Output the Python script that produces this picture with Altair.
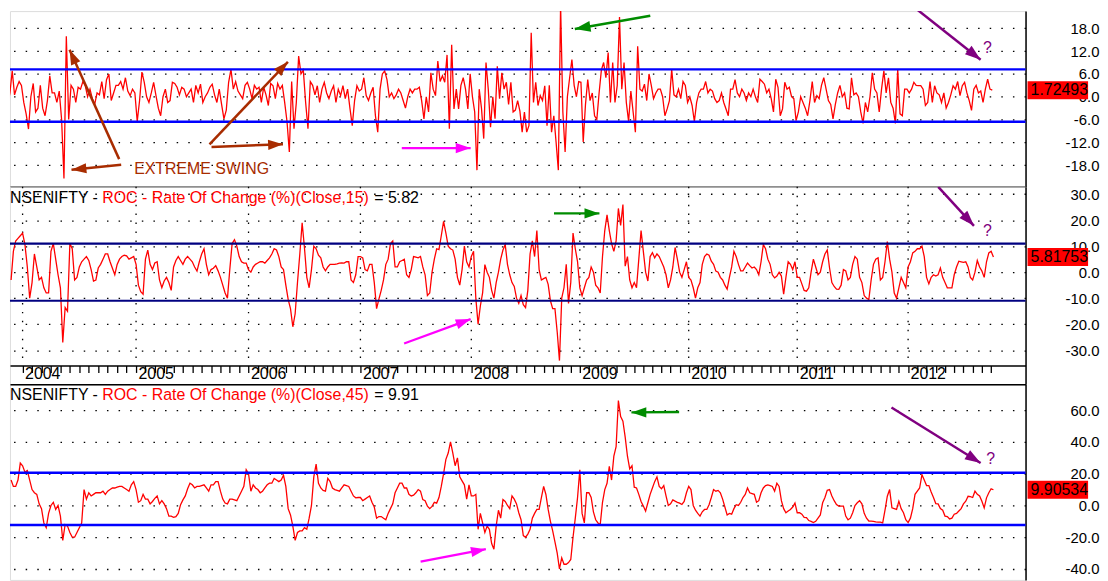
import altair as alt
import pandas as pd

FONT = "Liberation Sans"
RED = "#ff0000"
BROWN = "#a82c00"
GREEN = "#008c00"
MAGENTA = "#ff00ff"
PURPLE = "#800080"

YEARS = [2004, 2005, 2006, 2007, 2008, 2009, 2010, 2011, 2012]
MONTH_TICKS = [round(y + m / 12, 4) for y in YEARS for m in range(12) if y + m / 12 < 2012.8]
# the time axis is bar-based, so years have slightly different widths on screen
X_DOMAIN = [2003.886, 2004, 2005, 2006, 2007, 2008, 2009, 2010, 2011, 2012, 2013.061]
X_RANGE = [0, 12.7, 127, 240.3, 353, 464.7, 574, 683.7, 793, 904.7, 1023]

# ---- ROC(Close,5): 48 samples per year ----
ROC5 = {
    2003: [-2.3, 1, 6.8, 0.5, 2.5, 4, 3],
    2004: [-1.5, -4.5, -8.5, 0, 3.5, -4, -3, 3, -3, -5, -1, 5.5, 1, 1, -1.5, 1.5, -6, -21.5, 15.9, -6,
           3, 2, -1.5, 2.5, 2, 4, 2.9, 0, 2, -0.5, -2, 1, 0.5, 4, -0.5, 4.5, 6, -1, 1, 3,
           3, 4, 2, 5, 1.5, 0.3, 2, 1],
    2005: [-6.5, -1, 6.5, 3.8, 0, -1.5, 1, 3.8, 0.3, -3, -5, 0, 2, -1.5, -1, 3.8, 3.5, 2.5, 0.5, 2.5,
           2, 0, 1, 2, -1.5, 3, 1, 3.3, -1.5, 0, 1, 2.5, 3.3, 0.5, -1.5, 2, -2, -5.8, -3.5, 3.8,
           7.2, 2, 4, 1.5, 0.5, -0.5, 3, 3.8],
    2006: [2, -0.5, 3, 2, 2.5, -1.5, 2.5, 0.5, -2.3, 3.5, 2.9, -0.5, 3.5, 2, 3, -1.5, -6.5, -14.5, 4, -8.4,
           -1.5, 10.7, 6, 7, -1.5, -8.4, 4, 3, 0.5, 2.9, -1.5, 2, 3.8, 1, -0.5, 1.5, 2.9, -1.5, 2, 0.3,
           2.9, -0.5, 2, -3, -7.6, -1, 2.9, 1.5],
    2007: [2, 5, 0.3, -1, 1, 2.5, -5, -9.3, 2, 6, 6.8, 4.5, 0, 1, -0.5, 0.5, 2, 1, -1, -3,
           0, 2, 1, 2, 2, 2.5, -1, -5.8, 0, -4, 6.3, 2, 0.3, 9.4, 4, 5.5, 3.8, 11, -8.4, 13.7,
           -3.2, 2, -3.2, 3, 5, 2, -3.2, 6],
    2008: [0, -4, -19.3, 2, -3, -11, 9, 2, -8, 0, -5.8, 8, -0.5, 6.3, 2, 3.8, -2, 3.8, -4, -3.5,
           -1, -3.8, -9.3, -4, -9.3, -7.6, 16.8, -1.5, 3.8, -2.3, 0.3, -1, 2.9, -7.6, 3, -9.3, -5, -11.9, -19.3, 24.2,
           -4, -14.5, 0, 5, 9.8, 3, 0, 4],
    2009: [3.8, -11.9, -2, 4.5, -1, 1, -5, -6, 1, 7, 9, 5, 11.6, -1.5, 9, -1.5, 3, 21, 2, 9,
           -1.5, -6.5, 1.5, -4, -9.3, 13.3, 2, 1.5, 3.3, -1, 6, 3, -0.5, 1, 2, 2, 0, -5, -3.2, -1,
           7.2, 0.5, 0, 2, -0.5, 4, 3, -1.5],
    2010: [0, -2.3, -6.5, -1.5, 1, 2, 2, 4, 1, 2, 1.5, -0.5, -1.5, -1, 1, -1.5, -3.2, -5, 2, 2,
           4.5, 1, 0, 2, 1, -1, 1, 0, 2, 0, -1.5, 4.6, 4, 3.3, 1, 2, -0.5, -4, 4.6, 2.5,
           -5, -3.2, 3.8, 2, 2.5, 0, -0.5, -6.3],
    2011: [-4, 0, -1.5, -3, -5, -1, 4, -1.5, 0.3, -0.5, 3, 5, 2, -1, -2, -5.8, -2, 1, 3, 0,
           1, -3, -3.2, 5, 0.5, 1, 0, -4, -7, -1.5, -4, 0, 6.3, 2, 1, -4, 2, 6.8, 1, 5,
           -1.5, -3, -7, 7.2, -4.5, -5, 2, 2],
    2012: [1, 2, 3.8, 3, 2.9, 2.9, 2, -2.3, -1.5, 4, -1.5, 2.9, 1, 0.5, -1.5, 1, -3, -1.5, 0.5, 2.9,
           2, 4, 0.3, 2.9, 3.8, 1, -1, -3.6, 2, 3, 1, 1.5, -1.5, 2, 4.6, 2, 1.72493],
}

# ---- ROC(Close,15): 48 samples per year ----
ROC15 = {
    2003: [-3, 8, 12, 13, 14, 15],
    2004: [10.6, 2, -10, -4, 7, 2, -3, -2, -6, -8, -8, 8, 11, 5, -1, -6, -27, -13.6, -15, 11,
           9, -3, -2, 2, 4, 5, 6, 4.5, 1, -3.4, -3, 1.6, 3, 5, 7, 7, 4, 1.5, -1, 3,
           5, 6, 6.5, 6.3, 5, 5.5, 6, 3],
    2005: [-5, -7.5, -8.5, 5, 8.5, 3, 1, 3.5, 4, -3, -6, -3.4, -2, -4, -7, 2, 4.5, 6, 4.5, 3,
           5, 6, 5, 4, 2, 0.4, 4, 7, 9, 3, -1, 1, 1.5, 2.5, 0.5, -2, -5, -8, -10, 1,
           11, 12.5, 10, 6, 4, 3.5, 3.5, 1],
    2006: [0, 2, 3, 3.5, 4, 4, 3.5, 4.5, 5.5, 7, 9, 8.5, 6, 2, 1, -5, -10.5, -14, -21, -16,
           -4, 7, 19, 9.3, -2, -6, 1, 10, 9, 6.5, 5.5, 2, 0.5, 2, 3, 3, 3, 3.2, 3.5, 3.6,
           3.5, 4, 4, -3, -4, -1, 6, 6],
    2007: [5.5, 1, 0.5, 3, 3, -4, -14, -10.4, -7, -3, 3, 5, 11, 12, 2, 2, 4, 4.5, 5, -1,
           -2, 1, 6, 5.8, 5.5, 6, 2, -1, -9, -8, 0, 5, 9, 8.7, 14, 19.5, 15, 10, 9, 8.5,
           5, -2, -5, 1, 10, 4, 2, 6],
    2008: [8, -10, -20, -13, -8, 2.9, 0, -2, -7, -10, -4, 0, 5, 8.5, 10.6, 3, -1, -4, -5.5, -10,
           -12, -9, -12.5, -13.6, -7, 7, 12, 6, 16, 1, -3, -2.5, -2, -4.7, -11, -14, -14, -23, -34, -10,
           -6, 3, -12, -4, 15, 9, 4, -6],
    2009: [-9, -6, -3, -2, 2, 0, -5, -6, -8, 6, 16, 22, 16, 11, 8, 12, 24.5, 18, 26, 2.3,
           6, -3, -6, -4, -6, 5, 16, 8, 0, -3.4, 6, 7.5, 5.5, 7, 6, 4, 2, -1, -6, -3,
           2, 9.5, 5, 0, -2, 1, 4, -2],
    2010: [-3, -6, -10, -6, -4, 3, 6, 7, 6.5, 4.2, 3, 0.4, 0, -2, -3, -5, -6.5, -2, 2, 8,
           6, 3, 0.5, 0.5, 2, 3.5, 2.5, 1.6, 2, 1, -1, 4, 10.6, 9, 5, 3, -1, -2.2, -1.5, 0,
           -1.5, -8.5, -2, 4, 3, 1, 4, -2],
    2011: [-2, -4.5, -7, -7.3, -6, 0, 5, 2, -1, 0, 4, 7, 8.5, 1.6, -4, -5.5, -6.5, -6.6, -5, 1,
           0.5, -3, -2, 3, 6, 5, -2, -4, -9, -10, -10.5, -3, 3, 5, 5.5, -3, -2, 4, 11.8, 5,
           0, -8, -10, -6, -2, -4, -6, 2],
    2012: [4, 7.4, 8, 9, 9, 10, 6, -2, -4.5, -2, -1, -1.5, -1, 1.6, -2, -4, -6, -6, -6, -1,
           2, 4.2, 4, 3.8, 4, 2, -2, -3, 0, 4.5, 2, 0.4, -2, 4, 7.4, 8, 5.81753],
}

# ---- ROC(Close,45): 48 samples per year ----
ROC45 = {
    2003: [16, 12, 12, 16, 26.7, 25],
    2004: [21, 22, 16, 10, 8, 7, 1, -2, -11, -14, -5, 0, 2, -2.5, 0, -6.7, -22, -12, -13, -17,
           -20, -20, -17, -14, -11, 10, 4, 8, 6, 7, 8, 8, 8, 9, 7, 9, 10, 11, 11, 11.5,
           12, 12, 11, 10, 9, 13, 15, 10],
    2005: [2, 3, 7, 4, 4, 1, 2.5, 4.5, 6, 1, 3, 1, -2, -6.7, -6.7, -7.5, -7, -5, 0.5, 3.5,
           6, 10.5, 14, 13, 11, 12, 12, 12.5, 13, 11, 9, 13, 13, 15, 15, 9, 4, 1.5, 1, 4,
           4, 3.5, 3, 6, 9, 12, 22.5, 20],
    2006: [9, 13, 11, 10, 8, 9, 11, 13, 14, 14, 17, 16, 15, 16, 19, 12, -2, -6, -13, -22,
           -17, -16, -16, -14, -15, -8, 0, 18, 26, 14, 11, 9.5, 9, 17, 15, 11, 10, 9.5, 9, 11,
           13, 12.5, 12, 9, 6, 4.8, 5, 5],
    2007: [3, 4, 5, 6, 2, -1, -8, -7, -7, -8, -9, -5, -2, 1, 8, 11, 14, 14, 11, 11,
           7, 6, 6.5, 8, 10, 9, 3.7, 3, -0.4, -2, -0.6, 2, 1.5, 5, 12, 20, 29, 33, 40, 33,
           25, 30, 18, 15.5, 13, 4, 13, 6],
    2008: [6, 7, -15, -5, -11, -17, -13, -15, -24, -27.5, -13, -3, -8, 3.7, 2.5, 0, -2, 6, 4, 1,
           -4.6, -9, -19, -20, -18, -15, -8, -5, -2.5, -2.5, 5, 12, 6.9, -2.5, -10, -16, -23, -30, -40, -33,
           -37, -37, -36, -34, -20, -8, 5, 22.5],
    2009: [-5, -11, 8, 8, 5, -4, -9, -11, -12, 2, 10, 14, 24.6, 16, 31, 37, 66, 56, 53, 43,
           31, 23, 25, 11.5, 11, 7, 2.5, -0.4, -3.5, 1.7, 7, 11, 15, 18, 12, 10.5, 12.5, 6, 0, 1,
           3.5, 2.7, 2, 1.5, 0.6, 2.5, 8, 12],
    2010: [10, 0, -3, -5, -6.7, -4, -2.5, -2.5, 0.5, 5, 10, 9, 9.5, 8, 4, -1, -6, -5, -5.5, -2,
           0.5, 0, 2, 5, 6.9, 11, 8, 7.5, 7, 2, 3, 8, 11, 12.5, 13, 12.5, 12, 9, 14, 12,
           3, -2, -4.6, -3.5, -2.5, -1, 1.5, -4.6],
    2011: [-4.6, -5.5, -7.5, -7.7, -9.5, -10, -10.8, -10, -8, -6, 1.7, 5, 9.5, 10, 6, 3, 0.6, -0.4, -0.4, -0.4,
           -6.7, -9, -8, -4.6, 0, 1.7, 3, 1, -5, -8, -9.8, -9.8, -10, -10.4, -10.5, -10.5, -11, -3, 5.8, 10,
           -1.5, -2, -2.5, 2.7, -2, -4.6, -9, -10.8],
    2012: [-8, -2, 7, 9, 11, 19.4, 16, 12.5, 12.5, 8.5, 5, 1.2, 1, -2, -3, -6.7, -7, -8.5, -8, -5.5,
           -5, -3.5, -2, 1, 2.7, 5.8, 5.5, 5, 9, 7, 6, 2.7, -1.5, 4.8, 8, 10.5, 9.90534],
}

for _name, _d in (("ROC5", ROC5), ("ROC15", ROC15), ("ROC45", ROC45)):
    for _y in YEARS[:-1]:
        assert len(_d[_y]) == 48, (_name, _y, len(_d[_y]))

# band (overbought / oversold) levels per panel
BANDS5 = [7.2, -6.6]
BANDS15 = [11, -11]
BANDS45 = [20.6, -12.3]

TICKS5 = [-18, -12, -6, 0, 6, 12, 18]
TICKS15 = [-30, -20, -10, 0, 10, 20, 30]
TICKS45 = [-40, -20, 0, 20, 40, 60]

# arrows: tail (x1,y1) -> tip (x2,y2), in data units of each panel
ARROWS5 = [
    dict(x1=2004.869, y1=-17.9, x2=2004.431, y2=-19.2, color=BROWN, angle=264.3, size=900, width=2.5),
    dict(x1=2004.851, y1=-16.4, x2=2004.414, y2=12.35, color=BROWN, angle=335.6, size=900, width=2.5),
    dict(x1=2005.653, y1=-12.5, x2=2006.352, y2=9.2, color=BROWN, angle=43.6, size=900, width=2.5),
    dict(x1=2005.671, y1=-13.2, x2=2006.308, y2=-12.5, color=BROWN, angle=87.6, size=900, width=2.5),
    dict(x1=2007.373, y1=-13.5, x2=2007.994, y2=-13.5, color=MAGENTA, angle=90, size=900, width=2.2),
    dict(x1=2009.647, y1=21.3, x2=2008.954, y2=17.8, color=GREEN, angle=260.1, size=1000, width=2.5),
    dict(x1=2012.083, y1=22.9, x2=2012.655, y2=9.74, color=PURPLE, angle=128.3, size=1000, width=2.5),
]
ARROWS15 = [
    dict(x1=2008.762, y1=22.6, x2=2009.180, y2=22.6, color=GREEN, angle=90, size=900, width=2.5),
    dict(x1=2007.394, y1=-27.4, x2=2007.994, y2=-18.05, color=MAGENTA, angle=70, size=900, width=2.2),
    dict(x1=2012.272, y1=32.8, x2=2012.595, y2=17.8, color=PURPLE, angle=137.5, size=1000, width=2.5),
]
ARROWS45 = [
    dict(x1=2009.912, y1=58.9, x2=2009.474, y2=58.6, color=GREEN, angle=270, size=900, width=2.5),
    dict(x1=2007.543, y1=-35.4, x2=2008.134, y2=-27.5, color=MAGENTA, angle=79, size=900, width=2.2),
    dict(x1=2011.850, y1=61.7, x2=2012.655, y2=26.7, color=PURPLE, angle=122, size=1000, width=2.5),
]
NOTES5 = [
    dict(x=2004.983, y=-20.37, text="EXTREME SWING", color=BROWN, align="left", baseline="alphabetic"),
    dict(x=2012.717, y=12.9, text="?", color=PURPLE, align="center", baseline="middle"),
]
NOTES15 = [dict(x=2012.716, y=16.0, text="?", color=PURPLE, align="center", baseline="middle")]
NOTES45 = [dict(x=2012.747, y=29.4, text="?", color=PURPLE, align="center", baseline="middle")]

HEAD = "M0,0L0.34,1L-0.34,1Z"
WIDTH = 1023


def build(chunks, per_year, off):
    rows = []
    for year, vals in chunks.items():
        start = per_year - len(vals) if year == 2003 else 0
        for j, v in enumerate(vals):
            rows.append({"t": year + (start + j + off) / per_year, "v": v})
    return pd.DataFrame(rows)


Y_LABEL_EXPR = "datum.value < 0 ? '-' + format(-datum.value, '.1f') : format(datum.value, '.1f')"
X_LABEL_EXPR = "abs(datum.value - round(datum.value)) < 0.01 ? toString(round(datum.value)) : ''"


def border_axis(orient):
    return alt.Axis(orient=orient, labels=False, ticks=False, grid=False, domain=True,
                    domainColor="black", domainWidth=1.5, title=None)


YEAR_AXIS = alt.Axis(orient="bottom", offset=-19, values=MONTH_TICKS, labelExpr=X_LABEL_EXPR,
                     ticks=True, tickSize=7, tickColor="black", tickWidth=1.3,
                     domain=True, domainColor="black", domainWidth=1.5, grid=False,
                     labelAlign="left", labelBaseline="alphabetic", labelPadding=6,
                     labelOffset=2, labelFont=FONT, labelFontSize=16, labelColor="black",
                     labelOverlap=False, labelFlush=False, labelBound=False, title=None)


def panel(df, height, ydom, yticks, bands, band_color, band_width, xaxis, arrows, notes,
          title=None, grid_rows=None):
    xs = alt.Scale(domain=X_DOMAIN, range=X_RANGE, nice=False, zero=False)
    ys = alt.Scale(domain=ydom, nice=False, zero=False)
    yaxis = alt.Axis(orient="right", values=yticks, labelExpr=Y_LABEL_EXPR, ticks=False,
                     domain=True, domainColor="black", domainWidth=1.5,
                     grid=True, gridColor="black", gridDash=[1.5, 10.2], gridWidth=1.3, gridOpacity=1,
                     labelPadding=74, labelAlign="right", labelBaseline="middle",
                     labelFont=FONT, labelFontSize=15, labelColor="black",
                     labelOverlap=False, labelFlush=False, title=None)

    def X(f):
        return alt.X(f, type="quantitative", scale=xs, axis=xaxis)

    def Y(f):
        return alt.Y(f, type="quantitative", scale=ys, axis=yaxis)

    layers = []
    if grid_rows is not None:
        gdf = pd.DataFrame({"t": YEARS, "top": grid_rows[0], "bottom": grid_rows[1]})
        layers.append(alt.Chart(gdf).mark_rule(color="black", strokeWidth=1.3, strokeDash=[1.5, 7.5])
                      .encode(x=X("t"), y=Y("top"), y2="bottom"))
    layers.append(alt.Chart(df).mark_line(color=RED, strokeWidth=1.3, clip=True)
                  .encode(x=X("t"), y=Y("v")))
    layers.append(alt.Chart(pd.DataFrame({"v": bands})).mark_rule(color=band_color, strokeWidth=band_width)
                  .encode(y=Y("v")))
    adf = pd.DataFrame(arrows)
    layers.append(alt.Chart(adf).mark_rule(clip=True).encode(
        x=X("x1"), y=Y("y1"), x2="x2", y2="y2",
        color=alt.Color("color:N", scale=None),
        strokeWidth=alt.StrokeWidth("width:Q", scale=None)))
    layers.append(alt.Chart(adf).mark_point(shape=HEAD, filled=True, opacity=1, clip=True).encode(
        x=X("x2"), y=Y("y2"),
        angle=alt.Angle("angle:Q", scale=None),
        size=alt.Size("size:Q", scale=None),
        color=alt.Color("color:N", scale=None)))
    for n in notes:
        layers.append(alt.Chart(pd.DataFrame([n])).mark_text(
            font=FONT, fontSize=16, align=n["align"], baseline=n["baseline"], color=n["color"], clip=True
        ).encode(x=X("x"), y=Y("y"), text="text:N"))
    last = float(df["v"].iloc[-1])
    if title is not None:
        parts = [("NSENIFTY -", "black", 0), (title, RED, 93), ("= %.2f" % last, "black", 367)]
        for txt, col, px in parts:
            layers.append(alt.Chart(pd.DataFrame({"s": [txt]})).mark_text(
                font=FONT, fontSize=16, align="left", baseline="alphabetic", color=col
            ).encode(x=alt.value(px), y=alt.value(16), text="s:N"))
    ldf = pd.DataFrame({"v": [last], "label": ["%.5f" % last]})
    layers.append(alt.Chart(ldf).mark_tick(orient="horizontal", thickness=18, size=61, color=RED, opacity=1)
                  .encode(x=alt.value(WIDTH + 32.5), y=Y("v")))
    layers.append(alt.Chart(ldf).mark_text(font=FONT, fontSize=16, align="center", baseline="middle",
                                           color="black")
                  .encode(x=alt.value(WIDTH + 34), y=Y("v"), text="label:N"))
    return alt.layer(*layers).properties(width=WIDTH, height=height)


H1, H2, H3 = 177, 199, 197
p1 = panel(build(ROC5, 48, 0.5), H1, [-23.68, 22.53], TICKS5, BANDS5, "#0000ff", 2.5,
           border_axis("bottom"), ARROWS5, NOTES5)
p2 = panel(build(ROC15, 48, 1.0), H2, [-43.13, 32.82], TICKS15, BANDS15, "#000080", 2.2,
           YEAR_AXIS, ARROWS15, NOTES15,
           title="ROC - Rate Of Change (%)(Close,15)", grid_rows=(32.82, -35.9))
p3 = panel(build(ROC45, 48, 1.0), H3, [76.25 - H3 / 1.6, 76.25], TICKS45, BANDS45, "#0000ff", 2.5,
           border_axis("top"), ARROWS45, NOTES45,
           title="ROC - Rate Of Change (%)(Close,45)")

chart = alt.vconcat(p1, p2, p3, spacing=0, bounds="flush", padding=0).configure_view(
    stroke=None).configure(background="white", font=FONT)

chart.save("out.html", embed_options={"renderer": "svg", "actions": False})
